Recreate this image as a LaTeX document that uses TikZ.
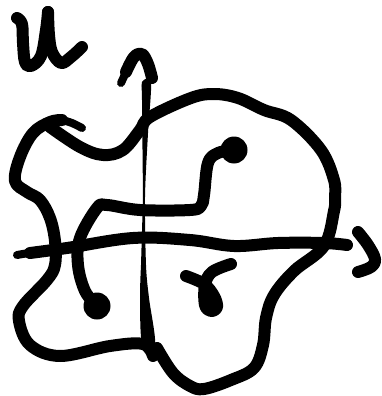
\documentclass[tikz,border=0pt]{standalone}
\begin{document}
\begin{tikzpicture}[
		x=1pt, y=-1pt,
		pen/.style={line width=12pt, line cap=round, line join=round},
		thin pen/.style={line width=8pt, line cap=round, line join=round},
		dot/.style={circle, fill=black, minimum size=27pt, inner sep=0pt}
		]
		\useasboundingbox (0,0) rectangle (382,396);
		
		% ---------------------------------------------------------
		% Letters
		% ---------------------------------------------------------
		\draw[pen] plot[smooth, tension=0.6] coordinates {(17,18) (22,24) (23,43) (25,62) (31,66) (41,56) (46,30) (48,12)};
		\draw[pen] plot[smooth, tension=0.6] coordinates {(48,12) (49,35) (52,52) (61,63) (71,57) (82,47)};
		\draw[pen] plot[smooth, tension=0.6] coordinates {(186,276) (204,284) (214,296) (217,307) (211,311) (205,305) (205,285) (212,272) (231,264)};
		
		% ---------------------------------------------------------
		% Axes
		% ---------------------------------------------------------
		% vertical axis, thin in the middle
		\fill plot[smooth, tension=0.5] coordinates {(143,197) (142,100) (142,82) (151,82) (148,133) (145,197) (146,265) (149,298) (155,343) (142,343) (140,298) (141,265)} -- cycle;
		\draw[thin pen] (121,83) -- (128,68);
		\draw[pen] plot[smooth, tension=0.6] coordinates {(126,72) (134,57) (142,54) (148,64) (152,78)};
		% horizontal axis
		\draw[thin pen] (17,255) -- (40,251);
		\draw[pen] plot[smooth, tension=0.6] coordinates {(30,253) (67,248) (133,238) (190,240) (234,246) (278,243) (324,243) (347,245)};
		\draw[pen] plot[smooth, tension=0.6] coordinates {(358,232) (368,245) (375,259) (371,267) (358,272)};
		
		% ---------------------------------------------------------
		% Closed curve
		% ---------------------------------------------------------
		\draw[thin pen] plot[smooth, tension=0.6] coordinates {(82,128) (72,123) (62,120)};
		\draw[pen] plot[smooth, tension=0.6] coordinates {(62,120) (50,122) (33,133) (20,157) (15,181) (27,192) (40,200) (50,218) (55,241) (55,265) (47,280) (23,306) (19,321) (30,345) (60,356) (110,346) (143,344) (153,356)};
		\draw[pen] plot[smooth, tension=0.6] coordinates {(157,348) (173,373) (190,386) (204,389) (231,380) (254,368) (263,345) (266,318) (274,295) (294,271) (324,246) (334,211) (335,198) (334,180) (321,150) (291,120) (264,110) (238,98) (214,94) (191,98) (150,117) (140,130) (123,150) (103,155) (80,147) (50,127)};
		
		% ---------------------------------------------------------
		% Path between the two dots
		% ---------------------------------------------------------
		\node[dot] (dot a) at (97,306) {};
		\node[dot] (dot b) at (234,150) {};
		\draw[pen] plot[smooth, tension=0.6] coordinates {(97,306) (85,291) (78,265) (80,238) (97,208) (107,205) (140,210) (190,210) (201,206) (204,195) (208,163) (218,153) (234,150)};
		
	\end{tikzpicture}
\end{document}
